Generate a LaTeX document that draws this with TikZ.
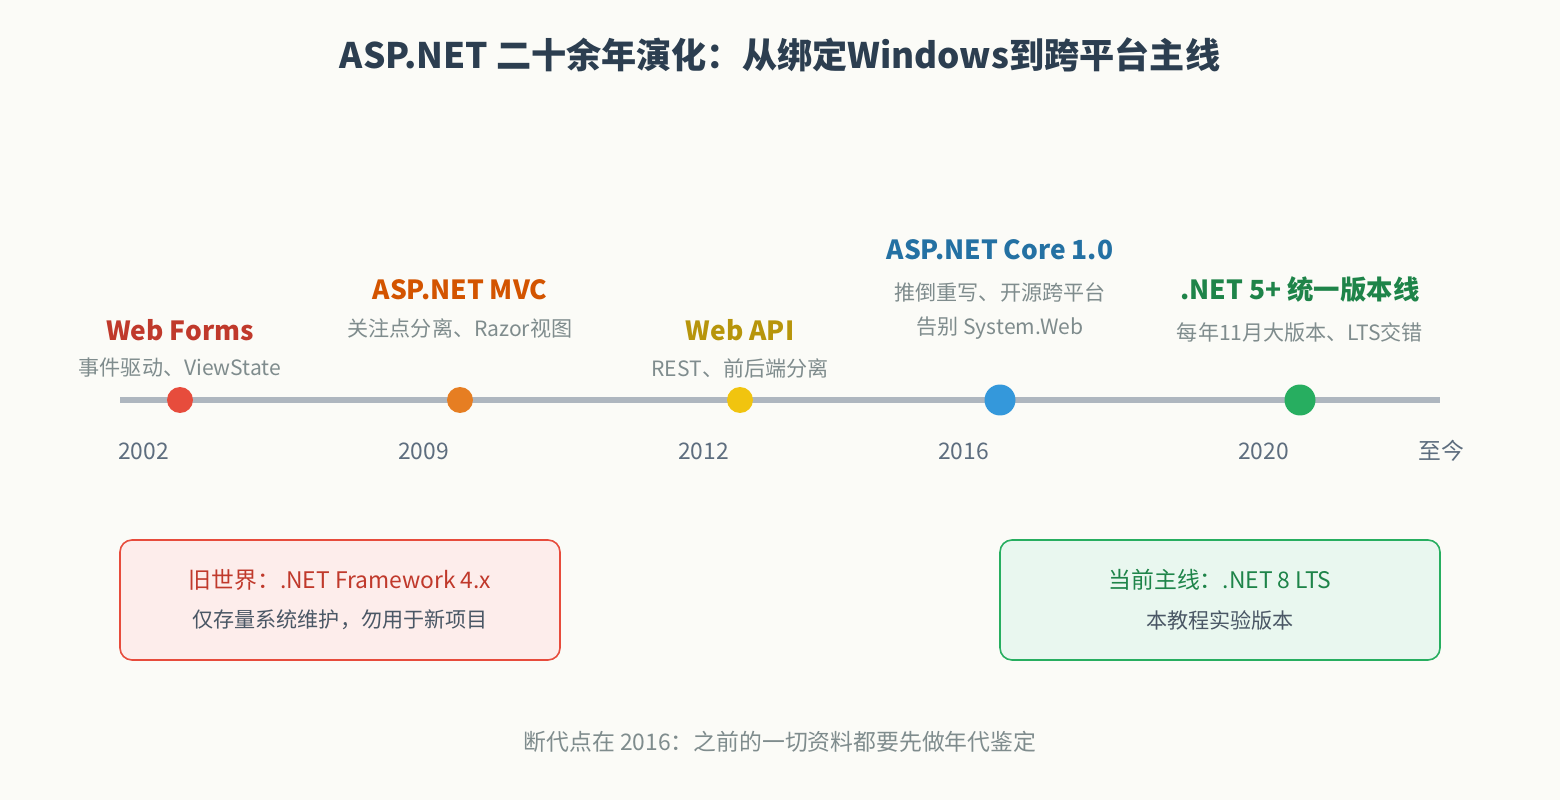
\documentclass[tikz,border=0pt]{standalone}
\usepackage{fontspec}
\setmainfont{Noto Sans CJK SC}
\definecolor{bg}{HTML}{FBFBF7}
\definecolor{ttl}{HTML}{2C3E50}
\definecolor{axis}{HTML}{AEB6BF}
\definecolor{sub}{HTML}{7F8C8D}
\definecolor{yr}{HTML}{5D6D7E}
\definecolor{cR}{HTML}{E74C3C}\definecolor{tR}{HTML}{C0392B}
\definecolor{cO}{HTML}{E67E22}\definecolor{tO}{HTML}{D35400}
\definecolor{cY}{HTML}{F1C40F}\definecolor{tY}{HTML}{B7950B}
\definecolor{cB}{HTML}{3498DB}\definecolor{tB}{HTML}{2471A3}
\definecolor{cG}{HTML}{27AE60}\definecolor{tG}{HTML}{1E8449}
\begin{document}
\begin{tikzpicture}[x=0.02cm,y=-0.02cm,
  head/.style={font=\fontsize{15}{18}\selectfont\bfseries},
  desc/.style={font=\fontsize{12}{14}\selectfont,text=sub},
  year/.style={font=\fontsize{13}{16}\selectfont,text=yr,anchor=west},
  dot/.style={circle,inner sep=0pt,minimum size=#1*0.04cm},
  box/.style={rounded corners=0.24cm,line width=0.9pt}]
\fill[bg] (0,0) rectangle (1560,800);
\node[font=\fontsize{20}{24}\selectfont\bfseries,text=ttl] (title) at (780,55) {ASP.NET 二十余年演化：从绑定Windows到跨平台主线};
\coordinate (a0) at (120,400); \coordinate (a1) at (1440,400);
\draw[axis,line width=3pt] (a0) -- (a1);
\node[dot=13,fill=cR] (d1) at (180,400) {};
\node[dot=13,fill=cO] (d2) at (460,400) {};
\node[dot=13,fill=cY] (d3) at (740,400) {};
\node[dot=15.5,fill=cB] (d4) at (1000,400) {};
\node[dot=15.5,fill=cG] (d5) at (1300,400) {};
\node[head,text=tR] (h1) at (180,330) {Web Forms};
\node[desc] (s1) at (180,368) {事件驱动、ViewState};
\node[head,text=tO] (h2) at (460,290) {ASP.NET MVC};
\node[desc] (s2) at (460,328) {关注点分离、Razor视图};
\node[head,text=tY] (h3) at (740,330) {Web API};
\node[desc] (s3) at (740,368) {REST、前后端分离};
\node[head,text=tB] (h4) at (1000,250) {ASP.NET Core 1.0};
\node[desc] (s4a) at (1000,292) {推倒重写、开源跨平台};
\node[desc] (s4b) at (1000,328) {告别 System.Web};
\node[head,text=tG] (h5) at (1300,290) {.NET 5+ 统一版本线};
\node[desc] (s5) at (1300,332) {每年11月大版本、LTS交错};
\node[year] (y1) at (112,451) {2002};
\node[year] (y2) at (392,451) {2009};
\node[year] (y3) at (672,451) {2012};
\node[year] (y4) at (932,451) {2016};
\node[year] (y5) at (1232,451) {2020};
\node[year] (y6) at (1412,451) {至今};
\draw[box,draw=cR,fill=cR!10] (120,540) rectangle (560,660);
\node[font=\fontsize{13}{16}\selectfont,text=tR] (b1t) at (340,580) {旧世界：.NET Framework 4.x};
\node[font=\fontsize{12}{14}\selectfont,text=yr!80!black] (b1s) at (340,620) {仅存量系统维护，勿用于新项目};
\draw[box,draw=cG,fill=cG!10] (1000,540) rectangle (1440,660);
\node[font=\fontsize{13}{16}\selectfont,text=tG] (b2t) at (1220,580) {当前主线：.NET 8 LTS};
\node[font=\fontsize{12}{14}\selectfont,text=yr!80!black] (b2s) at (1220,620) {本教程实验版本};
\node[font=\fontsize{13}{16}\selectfont,text=sub] (foot) at (780,742) {断代点在 2016：之前的一切资料都要先做年代鉴定};
\end{tikzpicture}
\end{document}
